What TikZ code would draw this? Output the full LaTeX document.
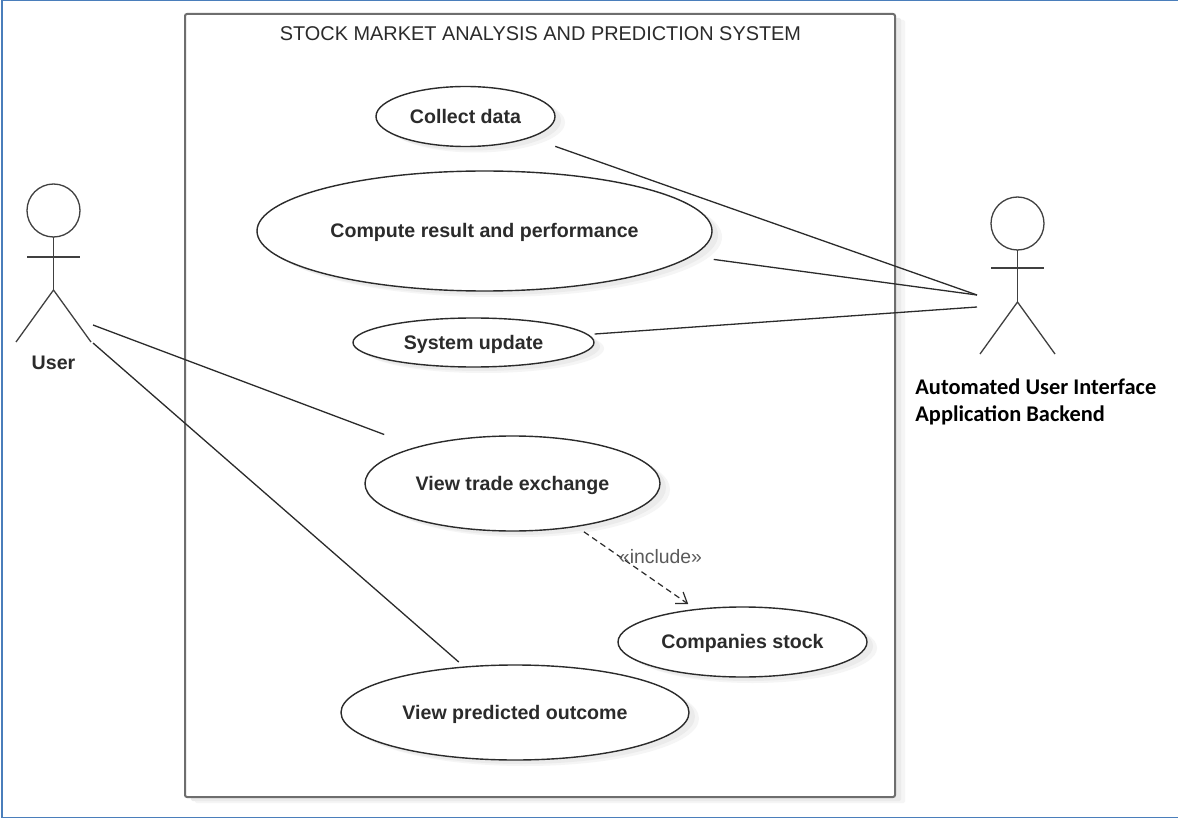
\documentclass[tikz,border=0pt]{standalone}
\usepackage{fontspec}
\setmainfont{Liberation Sans}
\newfontfamily\calib{Carlito}
\usetikzlibrary{shapes.geometric,shadows,arrows.meta}
\definecolor{framecol}{HTML}{4A7EBB}
\definecolor{inkcol}{HTML}{2B2B2B}
\definecolor{boxcol}{HTML}{6E6E6E}
\definecolor{labelcol}{HTML}{5A5A5A}
\newcommand{\uctext}[1]{\raisebox{-3.4pt}[0pt][0pt]{\makebox[0pt]{#1}}}
\tikzset{
  softshadow/.style={drop shadow={shadow xshift=5pt,shadow yshift=-3pt,fill=black!4,opacity=1},
                     drop shadow={shadow xshift=3pt,shadow yshift=-2pt,fill=black!8,opacity=1}},
  usecase/.style={ellipse,draw=inkcol,line width=.7pt,fill=white,inner sep=0pt,outer sep=0pt,softshadow,
    font=\fontsize{9.8}{12}\selectfont\bfseries,text=inkcol},
  actorline/.style={draw=inkcol!90,line width=.65pt},
  assoc/.style={draw=inkcol,line width=.65pt},
  inclusion/.style={draw=inkcol,line width=.6pt,densely dashed,-{Straight Barb[length=5pt,width=7pt]}},
}
\begin{document}
\begin{tikzpicture}[x=0.5pt,y=-0.5pt]
\useasboundingbox (0,0) rectangle (1178,818);
\fill[white] (0,0) rectangle (1178,818);
% outer frame
\draw[framecol,line width=1pt] (1.5,818) -- (1.5,0.5) -- (1178,0.5);
\draw[framecol,line width=.6pt] (1.5,817.3) -- (1178,817.3);
% system boundary
\node[draw=boxcol,line width=1pt,fill=white,rounded corners=1pt,minimum width=355pt,minimum height=391.5pt,inner sep=0pt,outer sep=0pt,softshadow] (system) at (540,405.5) {};
\node[font=\fontsize{9.95}{12}\selectfont,text=inkcol] (title) at (540.5,33.5) {STOCK MARKET ANALYSIS AND PREDICTION SYSTEM};
% use cases
\node[usecase,minimum width=89.5pt,minimum height=30pt] (collect) at (465.5,116.5) {\uctext{Collect data}};
\node[usecase,minimum width=227.5pt,minimum height=60pt] (compute) at (484.5,231) {\uctext{Compute result and performance}};
\node[usecase,minimum width=120.5pt,minimum height=24.5pt] (update) at (473.5,342.5) {\uctext{System update}};
\node[usecase,minimum width=147.5pt,minimum height=47.5pt] (trade) at (512.5,483.5) {\uctext{View trade exchange}};
\node[usecase,minimum width=124.5pt,minimum height=35pt] (stock) at (742.5,642) {\uctext{Companies stock}};
\node[usecase,minimum width=174pt,minimum height=47.5pt] (outcome) at (515,712.5) {\uctext{View predicted outcome}};
% user actor
\node[circle,draw=inkcol!90,line width=.65pt,minimum size=26.5pt,inner sep=0pt,outer sep=0pt] (userhead) at (53.5,210.5) {};
\coordinate (userhip) at (53.5,290);
\coordinate (userportA) at (93,325);
\coordinate (userportB) at (93,343);
\draw[actorline] (userhead.south) -- (userhip);
\draw[actorline] (27,257) -- (80,257);
\draw[actorline] (16,342) -- (userhip) -- (91,342);
\node[font=\fontsize{9.8}{12}\selectfont\bfseries,text=inkcol] (userlabel) at (53.5,362.5) {User};
% backend actor
\node[circle,draw=inkcol!90,line width=.65pt,minimum size=26.5pt,inner sep=0pt,outer sep=0pt] (backhead) at (1017.5,223.5) {};
\coordinate (backhip) at (1017.5,302);
\coordinate (backportA) at (977,295);
\coordinate (backportB) at (977,307);
\draw[actorline] (backhead.south) -- (backhip);
\draw[actorline] (991,268) -- (1044,268);
\draw[actorline] (980,354) -- (backhip) -- (1055,354);
\node[anchor=north west,inner sep=0pt,align=left,font=\calib\fontsize{11.2}{13.5}\selectfont\bfseries,text=black] (backlabel) at (915,378) {Automated User Interface\\Application Backend};
% associations
\draw[assoc,shorten <=13.5pt] (collect.-18.2) -- (backportA);
\draw[assoc,shorten <=11.6pt] (compute.-7.8) -- (backportA);
\draw[assoc,shorten <=3.6pt] (update.4.5) -- (backportB);
\draw[assoc,shorten >=17.9pt] (userportA) -- (trade.159.3);
\draw[assoc,shorten >=3.8pt] (userportB) -- (outcome.138.5);
% include
\draw[inclusion,shorten <=4.8pt,shorten >=4.8pt] (trade.-34.5) -- (stock.145);
\node[font=\fontsize{9.7}{11}\selectfont,text=labelcol,inner sep=0pt] (inc) at (660.5,557) {«include»};
\end{tikzpicture}
\end{document}
